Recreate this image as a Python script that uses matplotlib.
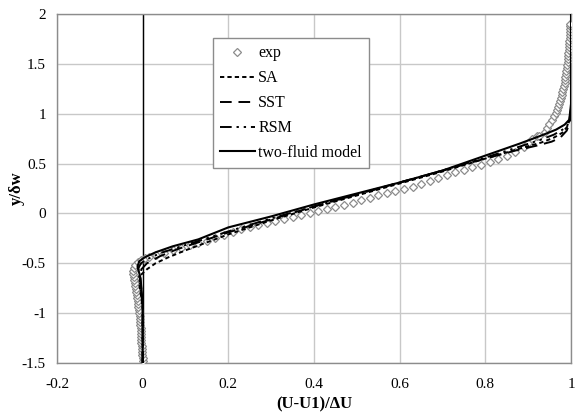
import numpy as np
import matplotlib.pyplot as plt

plt.rcParams['font.family'] = ['Liberation Serif', 'DejaVu Serif']

# experimental points, (U-U1)/dU and y/dw, in three stretches
exp_low_u = [0.0, 0.0, -0.001, -0.001, -0.002, -0.002, -0.003, -0.003, -0.004, -0.004,
             -0.005, -0.005, -0.006, -0.006, -0.007, -0.007, -0.008, -0.009, -0.010, -0.011,
             -0.012, -0.013, -0.014, -0.015, -0.016, -0.017, -0.018, -0.020, -0.021, -0.022,
             -0.022, -0.021, -0.017, -0.011, -0.004, 0.005, 0.015]
exp_low_y = [-1.48, -1.45, -1.42, -1.39, -1.36, -1.33, -1.30, -1.27, -1.24, -1.21,
             -1.18, -1.15, -1.12, -1.09, -1.06, -1.03, -1.00, -0.97, -0.94, -0.91,
             -0.88, -0.85, -0.82, -0.79, -0.76, -0.73, -0.70, -0.67, -0.64, -0.61,
             -0.58, -0.55, -0.52, -0.49, -0.47, -0.45, -0.44]
exp_mid_u = [0.03, 0.05, 0.07, 0.09, 0.11, 0.13, 0.15, 0.17, 0.19, 0.21, 0.23, 0.25,
             0.27, 0.29, 0.31, 0.33, 0.35, 0.37, 0.39, 0.41, 0.43, 0.45, 0.47, 0.49,
             0.51, 0.53, 0.55, 0.57, 0.59, 0.61, 0.63, 0.65, 0.67, 0.69, 0.71, 0.73,
             0.75, 0.77, 0.79, 0.81, 0.83, 0.85, 0.87, 0.89, 0.90, 0.91, 0.92]
exp_mid_y = [-0.42, -0.40, -0.37, -0.35, -0.32, -0.30, -0.28, -0.25, -0.22, -0.19, -0.16, -0.14,
             -0.12, -0.10, -0.08, -0.06, -0.04, -0.02, 0.00, 0.02, 0.04, 0.06, 0.08, 0.10,
             0.13, 0.15, 0.18, 0.20, 0.22, 0.24, 0.27, 0.30, 0.33, 0.36, 0.39, 0.42,
             0.44, 0.47, 0.49, 0.52, 0.55, 0.58, 0.62, 0.67, 0.71, 0.75, 0.78]
exp_top_u = [0.925, 0.94, 0.945, 0.948, 0.955, 0.96, 0.964, 0.967, 0.970, 0.973, 0.975,
             0.977, 0.978, 0.980, 0.982, 0.984, 0.985, 0.986, 0.987, 0.988, 0.989, 0.990,
             0.991, 0.992, 0.993, 0.994, 0.994, 0.995, 0.995, 0.996, 0.996, 0.997, 0.997,
             0.997, 0.998, 0.998, 0.998]
exp_top_y = [0.78, 0.82, 0.86, 0.90, 0.94, 0.98, 1.01, 1.04, 1.07, 1.10, 1.13,
             1.16, 1.19, 1.22, 1.25, 1.28, 1.31, 1.34, 1.37, 1.40, 1.43, 1.46,
             1.49, 1.52, 1.55, 1.58, 1.61, 1.64, 1.67, 1.70, 1.73, 1.76, 1.79,
             1.82, 1.85, 1.88, 1.90]

sa_u = [0, 0, -0.008, -0.005, 0.01, 0.03, 0.06, 0.1, 0.15, 0.2, 0.3, 0.4, 0.5, 0.6,
        0.7, 0.8, 0.88, 0.93, 0.96, 0.98, 0.993, 1.0, 1.0]
sa_y = [-1.5, -0.95, -0.7, -0.62, -0.56, -0.5, -0.44, -0.37, -0.29, -0.21, -0.07, 0.06,
        0.18, 0.30, 0.42, 0.55, 0.65, 0.71, 0.76, 0.81, 0.88, 1.0, 2.0]

sst_u = [0, 0, -0.006, -0.003, 0.01, 0.04, 0.08, 0.13, 0.2, 0.3, 0.4, 0.5, 0.6, 0.7,
         0.8, 0.87, 0.92, 0.955, 0.975, 0.99, 1.0, 1.0]
sst_y = [-1.5, -0.9, -0.63, -0.56, -0.5, -0.43, -0.36, -0.29, -0.19, -0.06, 0.07, 0.19,
         0.31, 0.43, 0.55, 0.63, 0.68, 0.72, 0.76, 0.83, 0.95, 2.0]

rsm_u = [0, 0, -0.008, -0.01, -0.004, 0.01, 0.04, 0.09, 0.15, 0.2, 0.3, 0.4, 0.5, 0.6,
         0.7, 0.8, 0.88, 0.93, 0.96, 0.98, 0.995, 1.0, 1.0]
rsm_y = [-1.5, -0.9, -0.64, -0.55, -0.5, -0.46, -0.4, -0.33, -0.25, -0.18, -0.05, 0.07,
         0.19, 0.31, 0.43, 0.56, 0.67, 0.74, 0.79, 0.84, 0.9, 1.05, 2.0]

two_u = [0, 0, -0.005, -0.012, -0.008, 0.005, 0.03, 0.07, 0.13, 0.2, 0.3, 0.4, 0.5, 0.6,
         0.7, 0.8, 0.88, 0.93, 0.965, 0.985, 0.996, 1.0, 1.0]
two_y = [-1.5, -0.9, -0.65, -0.53, -0.48, -0.44, -0.39, -0.33, -0.26, -0.14, -0.03, 0.09,
         0.20, 0.31, 0.43, 0.58, 0.70, 0.78, 0.84, 0.89, 0.94, 1.1, 2.0]

x_ticks = [-0.2, 0, 0.2, 0.4, 0.6, 0.8, 1]
x_labels = ['-0.2', '0', '0.2', '0.4', '0.6', '0.8', '1']
y_ticks = [-1.5, -1, -0.5, 0, 0.5, 1, 1.5, 2]
y_labels = ['-1.5', '-1', '-0.5', '0', '0.5', '1', '1.5', '2']

fig = plt.figure(figsize=(5.75, 4.15), dpi=100)
ax = fig.add_axes([57/575, 1-363/415, 514/575, 349/415])

exp_u = exp_low_u + exp_mid_u + exp_top_u
exp_y = exp_low_y + exp_mid_y + exp_top_y
ax.plot(exp_u, exp_y, linestyle='none', marker='D', markersize=4.5,
        markerfacecolor='white', markeredgecolor='#8c8c8c', markeredgewidth=0.9,
        label='exp', zorder=3)
ax.plot(sa_u, sa_y, color='black', lw=1.4, linestyle=(0, (2.2, 1.6)), label='SA', zorder=4)
ax.plot(sst_u, sst_y, color='black', lw=1.4, linestyle=(0, (6, 3.5)), label='SST', zorder=4)
ax.plot(rsm_u, rsm_y, color='black', lw=1.4, linestyle=(0, (6, 2.5, 1.2, 2.5, 1.2, 2.5)),
        label='RSM', zorder=4)
ax.plot(two_u, two_y, color='black', lw=1.5, label='two-fluid model', zorder=4)

ax.set_xlim(-0.2, 1)
ax.set_ylim(-1.5, 2)
ax.set_xticks(x_ticks)
ax.set_xticklabels(x_labels)
ax.set_yticks(y_ticks)
ax.set_yticklabels(y_labels)
ax.tick_params(axis='y', length=0, labelsize=11, pad=8)
ax.tick_params(axis='x', length=0, labelsize=11, pad=11)
ax.grid(True, color='#c8c8c8', linewidth=1)
ax.set_axisbelow(True)
ax.axvline(0, color='black', linewidth=1, zorder=2)
for s in ax.spines.values():
    s.set_color('#8c8c8c')
    s.set_linewidth(1)

ax.set_xlabel('(U-U1)/ΔU', fontsize=12, fontweight='bold', labelpad=4)
ax.set_ylabel('y/δw', fontsize=12, fontweight='bold', labelpad=-2)

leg = ax.legend(loc='upper left', bbox_to_anchor=(0.303, 0.931), borderaxespad=0,
                fontsize=11.5, fancybox=False, edgecolor='#8c8c8c', framealpha=1,
                handlelength=2.2, handletextpad=0.2, labelspacing=0.56, borderpad=0.45)
leg.get_frame().set_linewidth(1)

fig.savefig('out.png', dpi=100)
